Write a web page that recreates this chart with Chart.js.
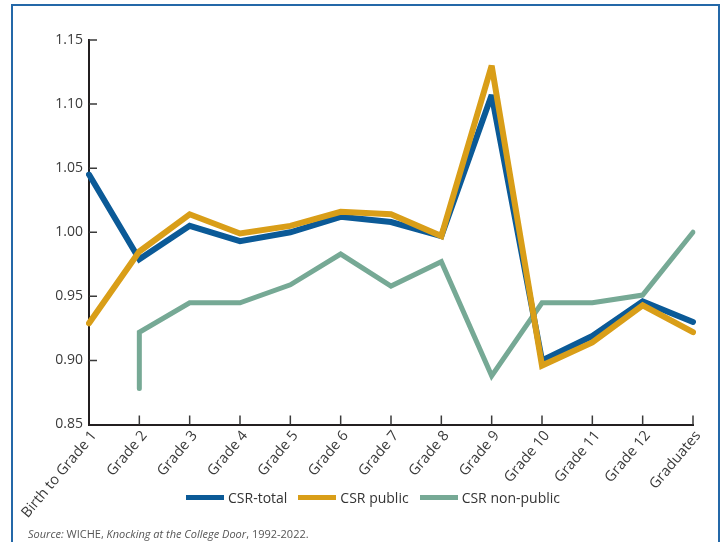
<!DOCTYPE html>
<html>
<head>
<meta charset="utf-8">
<title>Cohort survival ratios</title>
<script src="https://cdn.jsdelivr.net/npm/chart.js@4/dist/chart.umd.min.js"></script>
<style>
  html, body { margin: 0; padding: 0; background: #ffffff; }
  body { width: 725px; height: 542px; position: relative; overflow: hidden; font-family: "Open Sans", sans-serif; }
  #frame { position: absolute; left: 11px; top: 4px; width: 709px; height: 560px; border: 2px solid #2468a8; box-sizing: border-box; }
  #wrap { position: absolute; left: 0; top: 0; width: 725px; height: 542px; }
  #legend { position: absolute; left: 186px; top: 488px; display: flex; align-items: center; font-size: 14px; color: #333; white-space: nowrap; }
  #legend .item { display: flex; align-items: center; margin-right: 11px; }
  #legend .swatch { display: inline-block; width: 38px; height: 5px; margin-right: 4px; }
  #source { position: absolute; left: 28px; top: 526px; font-size: 11px; color: #555; white-space: nowrap; }
  #source i { font-style: italic; }
</style>
</head>
<body>
<div id="frame"></div>
<div id="wrap"><canvas id="chart" width="725" height="542"></canvas></div>
<div id="legend"></div>
<div id="source"><i>Source:</i> WICHE, <i>Knocking at the College Door</i>, 1992-2022.</div>
<script>
// Grade levels along the horizontal axis
const categories = ['Birth to Grade 1', 'Grade 2', 'Grade 3', 'Grade 4', 'Grade 5', 'Grade 6',
  'Grade 7', 'Grade 8', 'Grade 9', 'Grade 10', 'Grade 11', 'Grade 12', 'Graduates'];

// Cohort survival ratios
const csrTotal  = [1.045, 0.979, 1.005, 0.993, 1.000, 1.012, 1.008, 0.997, 1.107, 0.900, 0.919, 0.946, 0.930];
const csrPublic = [0.929, 0.985, 1.014, 0.999, 1.005, 1.016, 1.014, 0.997, 1.130, 0.896, 0.914, 0.943, 0.922];
const csrNonPublic = [null, 0.922, 0.945, 0.945, 0.959, 0.983, 0.958, 0.977, 0.888, 0.945, 0.945, 0.951, 1.000];
// Non-public series opens with a lower reading at Grade 2
const csrNonPublicStart = 0.878;

// Value axis ticks
const yTicks = [0.85, 0.90, 0.95, 1.00, 1.05, 1.10, 1.15];

const seriesNames = ['CSR-total', 'CSR public', 'CSR non-public'];
const colors = { total: '#0b5a97', pub: '#d99e18', nonpub: '#76a995' };

const nonPublicPoints = [{ x: categories[1], y: csrNonPublicStart }].concat(
  categories.map((c, i) => ({ x: c, y: csrNonPublic[i] })).filter(p => p.y !== null)
);

// Very sharp corners get bevelled, the rest stay mitred
const joinLimit = {
  id: 'joinLimit',
  beforeDatasetsDraw(chart) { chart.ctx.save(); chart.ctx.miterLimit = 3; },
  afterDatasetsDraw(chart) { chart.ctx.restore(); }
};

// Short tick marks drawn inward from both axes
const inwardTicks = {
  id: 'inwardTicks',
  afterDatasetsDraw(chart) {
    const { ctx, scales: { x, y }, chartArea } = chart;
    ctx.save();
    ctx.strokeStyle = '#3a3a3a';
    ctx.lineWidth = 1.5;
    ctx.beginPath();
    y.ticks.forEach((t, i) => {
      const py = y.getPixelForTick(i);
      if (Math.abs(py - chartArea.bottom) < 1) return;
      ctx.moveTo(chartArea.left, py);
      ctx.lineTo(chartArea.left + 8, py);
    });
    x.ticks.forEach((t, i) => {
      const px = x.getPixelForTick(i);
      if (Math.abs(px - chartArea.left) < 1) return;
      ctx.moveTo(px, chartArea.bottom);
      ctx.lineTo(px, chartArea.bottom - 9);
    });
    ctx.stroke();
    ctx.restore();
  }
};

const chart = new Chart(document.getElementById('chart'), {
  type: 'line',
  data: {
    labels: categories,
    datasets: [
      { label: seriesNames[0], data: csrTotal, borderColor: colors.total, backgroundColor: colors.total,
        borderWidth: 6, order: 1 },
      { label: seriesNames[1], data: csrPublic, borderColor: colors.pub, backgroundColor: colors.pub,
        borderWidth: 6, order: 0 },
      { label: seriesNames[2], data: nonPublicPoints, borderColor: colors.nonpub, backgroundColor: colors.nonpub,
        borderWidth: 5, order: 2 }
    ]
  },
  options: {
    responsive: false,
    animation: false,
    events: [],
    elements: {
      point: { radius: 0 },
      line: { tension: 0, borderJoinStyle: 'miter', borderCapStyle: 'round', fill: false }
    },
    layout: { padding: { left: 30, right: 32, top: 40, bottom: 0 } },
    scales: {
      x: {
        type: 'category',
        offset: false,
        grid: { display: false, drawTicks: false },
        border: { display: true, color: '#231f20', width: 2 },
        ticks: {
          autoSkip: false, minRotation: 50, maxRotation: 50, padding: 3, labelOffset: 5,
          color: '#3a3a3a', font: { family: 'Open Sans', size: 14.5 }
        },
        afterFit(scale) { scale.height = 117.5; }
      },
      y: {
        min: 0.85, max: 1.15,
        afterBuildTicks(scale) { scale.ticks = yTicks.map(v => ({ value: v })); },
        grid: { display: false, drawTicks: false },
        border: { display: true, color: '#231f20', width: 2 },
        ticks: {
          padding: 6, color: '#3a3a3a', font: { family: 'Open Sans', size: 14 },
          callback: v => Number(v).toFixed(2)
        },
        afterFit(scale) { scale.width = 59; }
      }
    },
    plugins: {
      tooltip: { enabled: false },
      legend: { display: false }
    }
  },
  plugins: [joinLimit, inwardTicks]
});

// Legend built from the chart's own datasets
const legendEl = document.getElementById('legend');
chart.data.datasets.forEach(ds => {
  const item = document.createElement('span');
  item.className = 'item';
  const sw = document.createElement('span');
  sw.className = 'swatch';
  sw.style.background = ds.borderColor;
  const txt = document.createElement('span');
  txt.textContent = ds.label;
  item.appendChild(sw);
  item.appendChild(txt);
  legendEl.appendChild(item);
});
</script>
</body>
</html>
